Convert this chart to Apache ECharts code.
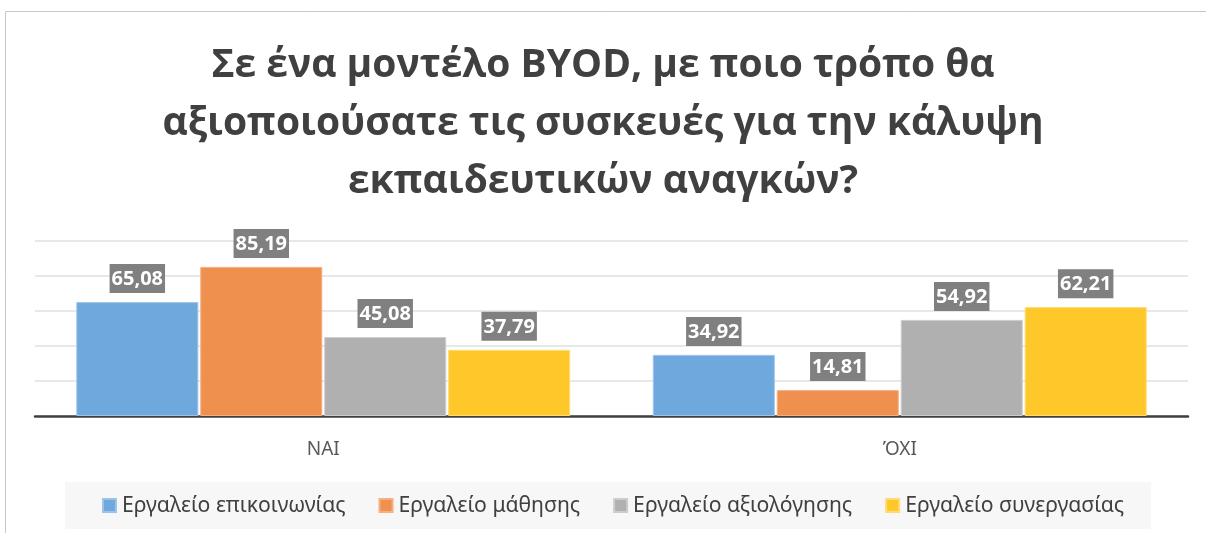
<!DOCTYPE html>
<html>
<head>
<meta charset="utf-8">
<script src="https://cdn.jsdelivr.net/npm/echarts@6/dist/echarts.min.js"></script>
<style>
  html, body { margin: 0; padding: 0; background: #ffffff; }
  #chart { width: 1206px; height: 533px; }
</style>
</head>
<body>
<div id="chart"></div>
<script>
// Survey answers (percent) per usage type of personal devices
const categories = ['ΝΑΙ', 'ΌΧΙ'];
const seriesNames = ['Εργαλείο επικοινωνίας', 'Εργαλείο μάθησης', 'Εργαλείο αξιολόγησης', 'Εργαλείο συνεργασίας'];
const communication = [65.08, 34.92];
const learning = [85.19, 14.81];
const assessment = [45.08, 54.92];
const collaboration = [37.79, 62.21];
const titleText = 'Σε ένα μοντέλο BYOD, με ποιο τρόπο θα\nαξιοποιούσατε τις συσκευές για την κάλυψη\nεκπαιδευτικών αναγκών?';

const colors = ['#6fa8dc', '#f0904f', '#b0b0b0', '#fec72a'];
const borders = ['#9cc3e8', '#f5b080', '#cccccc', '#ffdb70'];
const values = [communication, learning, assessment, collaboration];

const chart = echarts.init(document.getElementById('chart'), null, { renderer: 'canvas' });

const series = seriesNames.map((name, i) => ({
  name: name,
  type: 'bar',
  data: values[i],
  barWidth: 122,
  barGap: '1.6%',
  itemStyle: { color: colors[i], borderColor: borders[i], borderWidth: 1 },
  label: {
    show: true,
    position: 'top',
    distance: 9,
    formatter: p => p.value.toFixed(2).replace('.', ','),
    backgroundColor: '#808080',
    color: '#ffffff',
    fontFamily: 'Open Sans',
    fontWeight: 'bold',
    fontSize: 20,
    lineHeight: 22,
    padding: [4, 2, 3, 2]
  }
}));

chart.setOption({
  animation: false,
  color: colors,
  title: {
    text: titleText,
    left: 'center',
    top: 32,
    textStyle: {
      fontFamily: 'Open Sans',
      fontWeight: 'bold',
      fontSize: 39,
      lineHeight: 58,
      color: '#404040'
    }
  },
  graphic: [{
    type: 'rect',
    silent: true,
    shape: { x: 5.5, y: 11.5, width: 1220, height: 540 },
    style: { fill: 'none', stroke: '#c8c8c8', lineWidth: 1 }
  }],
  legend: {
    bottom: 4,
    left: 65,
    backgroundColor: '#f7f7f7',
    padding: [13, 27, 13, 37],
    itemWidth: 13,
    itemHeight: 13,
    itemGap: 33,
    icon: 'rect',
    textStyle: { fontFamily: 'Noto Sans', fontSize: 21.2, color: '#404040', padding: [0, 0, 0, 1] },
    data: seriesNames
  },
  grid: { left: 35, right: 18, top: 241, bottom: 117 },
  xAxis: {
    type: 'category',
    data: categories,
    axisLine: { lineStyle: { color: '#404040', width: 2.5 } },
    axisTick: { show: false },
    axisLabel: { margin: 24, fontFamily: 'Noto Sans', fontSize: 19, color: '#595959' }
  },
  yAxis: {
    type: 'value',
    min: 0,
    max: 100,
    interval: 20,
    axisLabel: { show: false },
    axisLine: { show: false },
    axisTick: { show: false },
    splitLine: { lineStyle: { color: '#e0e0e0', width: 1.5 } }
  },
  series: series
});
</script>
</body>
</html>
